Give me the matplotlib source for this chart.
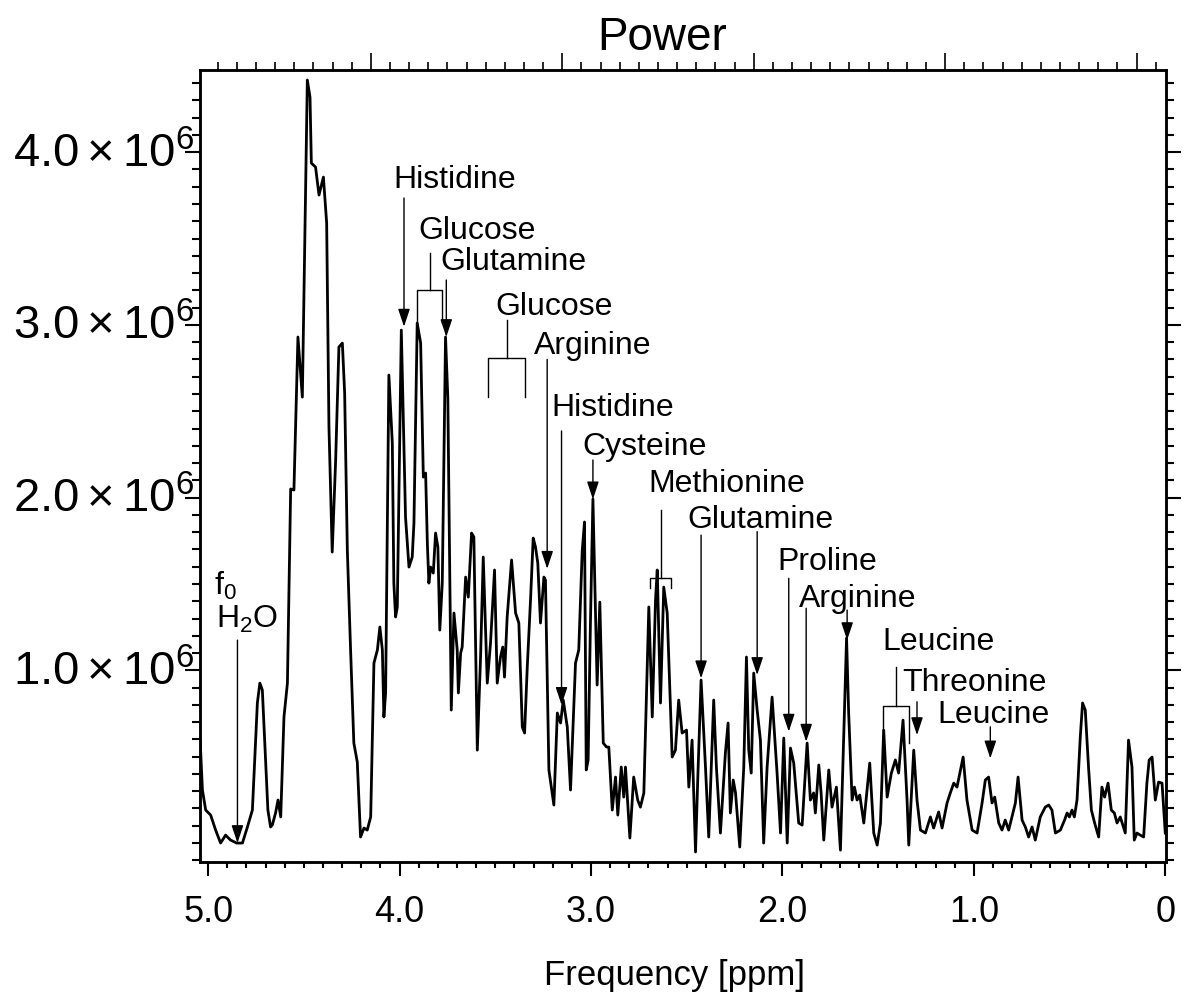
import numpy as np
import matplotlib.pyplot as plt
import matplotlib.transforms as mtransforms
from matplotlib.ticker import FixedLocator, FuncFormatter, MultipleLocator

plt.rcParams['font.family'] = ['Liberation Sans', 'DejaVu Sans']
plt.rcParams['mathtext.fontset'] = 'custom'
plt.rcParams['mathtext.rm'] = 'Liberation Sans'
plt.rcParams['mathtext.it'] = 'Liberation Sans:italic'
plt.rcParams['mathtext.default'] = 'regular'

# spectrum: chemical shift [ppm] and power [x1e6]
ppm = [5.042, 5.030, 5.013, 4.987, 4.961, 4.935, 4.909, 4.883, 4.851, 4.821,
       4.795, 4.769, 4.743, 4.730, 4.717, 4.705, 4.688, 4.674, 4.665, 4.648,
       4.635, 4.621, 4.604, 4.586, 4.569, 4.552, 4.531, 4.508, 4.482, 4.468,
       4.461, 4.439, 4.421, 4.398, 4.381, 4.369, 4.352, 4.334, 4.317, 4.299,
       4.287, 4.273, 4.256, 4.239, 4.221, 4.204, 4.186, 4.169, 4.151, 4.134,
       4.116, 4.103, 4.090, 4.082, 4.073, 4.056, 4.038, 4.030, 4.021, 4.012,
       3.991, 3.969, 3.951, 3.934, 3.925, 3.908, 3.890, 3.876, 3.864, 3.855,
       3.847, 3.838, 3.824, 3.812, 3.800, 3.790, 3.777, 3.760, 3.748, 3.730,
       3.716, 3.699, 3.693, 3.681, 3.673, 3.655, 3.641, 3.624, 3.612, 3.594,
       3.577, 3.563, 3.542, 3.525, 3.504, 3.490, 3.473, 3.461, 3.452, 3.438,
       3.415, 3.394, 3.377, 3.359, 3.347, 3.333, 3.316, 3.302, 3.290, 3.278,
       3.264, 3.246, 3.238, 3.220, 3.194, 3.176, 3.159, 3.145, 3.124, 3.107,
       3.081, 3.064, 3.046, 3.034, 3.025, 3.015, 3.003, 2.990, 2.968, 2.954,
       2.936, 2.919, 2.907, 2.889, 2.872, 2.860, 2.842, 2.829, 2.820, 2.797,
       2.777, 2.756, 2.742, 2.724, 2.698, 2.680, 2.663, 2.654, 2.637, 2.620,
       2.602, 2.576, 2.559, 2.542, 2.524, 2.501, 2.489, 2.472, 2.454, 2.442,
       2.425, 2.402, 2.385, 2.359, 2.345, 2.324, 2.298, 2.284, 2.272, 2.257,
       2.245, 2.223, 2.202, 2.188, 2.176, 2.163, 2.150, 2.132, 2.115, 2.098,
       2.080, 2.054, 2.028, 2.010, 1.993, 1.975, 1.958, 1.941, 1.915, 1.897,
       1.871, 1.854, 1.837, 1.828, 1.810, 1.798, 1.784, 1.758, 1.741, 1.718,
       1.697, 1.680, 1.665, 1.654, 1.636, 1.624, 1.610, 1.596, 1.575, 1.544,
       1.523, 1.505, 1.488, 1.471, 1.453, 1.431, 1.410, 1.393, 1.370, 1.349,
       1.340, 1.314, 1.297, 1.279, 1.253, 1.227, 1.210, 1.184, 1.166, 1.140,
       1.123, 1.105, 1.088, 1.056, 1.036, 1.009, 0.983, 0.957, 0.940, 0.923,
       0.905, 0.891, 0.870, 0.853, 0.836, 0.818, 0.801, 0.783, 0.769, 0.748,
       0.731, 0.714, 0.696, 0.679, 0.653, 0.627, 0.609, 0.592, 0.574, 0.548,
       0.526, 0.513, 0.501, 0.487, 0.475, 0.461, 0.444, 0.432, 0.418, 0.401,
       0.386, 0.369, 0.348, 0.331, 0.317, 0.299, 0.282, 0.266, 0.252, 0.235,
       0.209, 0.192, 0.174, 0.162, 0.148, 0.131, 0.113, 0.096, 0.084, 0.069,
       0.052, 0.035, 0.017, 0.000]
power = [0.596, 0.307, 0.191, 0.162, 0.075, 0.000, 0.046, 0.017, 0.000, 0.000,
         0.093, 0.191, 0.811, 0.926, 0.886, 0.596, 0.191, 0.093, 0.104, 0.174,
         0.249, 0.151, 0.730, 0.926, 2.050, 2.044, 2.930, 2.582, 4.418, 4.319,
         3.937, 3.914, 3.752, 3.856, 3.590, 2.409, 1.685, 2.218, 2.872, 2.895,
         2.606, 1.697, 1.118, 0.579, 0.469, 0.035, 0.087, 0.075, 0.151, 1.042,
         1.118, 1.251, 1.118, 0.730, 0.869, 2.710, 2.316, 1.505, 1.309, 1.367,
         2.970, 1.888, 1.598, 1.656, 1.853, 3.011, 2.895, 2.119, 2.142, 1.737,
         1.505, 1.598, 1.563, 1.795, 1.714, 1.233, 1.505, 2.930, 2.577, 0.770,
         1.332, 1.118, 0.869, 1.100, 1.135, 1.540, 1.424, 1.795, 1.772, 0.538,
         1.077, 1.656, 0.926, 1.158, 1.581, 0.926, 1.077, 1.135, 0.961, 1.309,
         1.639, 1.332, 1.274, 0.672, 0.637, 1.019, 1.407, 1.766, 1.714, 1.621,
         1.274, 1.540, 1.523, 0.423, 0.220, 0.753, 0.695, 0.828, 0.672, 0.307,
         1.042, 1.118, 1.691, 1.859, 0.423, 0.481, 1.274, 1.992, 0.915, 1.395,
         0.579, 0.556, 0.556, 0.191, 0.382, 0.162, 0.440, 0.266, 0.440, 0.029,
         0.382, 0.249, 0.208, 0.290, 1.367, 0.730, 1.407, 1.581, 0.811, 1.482,
         1.332, 0.498, 0.538, 0.828, 0.637, 0.654, 0.324, 0.596, -0.052, 0.382,
         0.944, 0.440, 0.035, 0.828, 0.440, 0.058, 0.521, 0.695, 0.174, 0.365,
         0.290, -0.023, 0.440, 1.077, 0.538, 0.405, 0.984, 0.770, 0.596, 0.000,
         0.440, 0.845, 0.405, 0.058, 0.608, 0.000, 0.550, 0.463, 0.116, 0.104,
         0.579, 0.249, 0.290, 0.174, 0.452, 0.290, 0.017, 0.423, 0.208, 0.324,
         -0.041, 0.614, 1.187, 0.753, 0.249, 0.324, 0.249, 0.278, 0.116, 0.463,
         0.058, -0.012, 0.116, 0.654, 0.266, 0.405, 0.481, 0.405, 0.712, 0.249,
         -0.012, 0.538, 0.249, 0.075, 0.058, 0.151, 0.087, 0.180, 0.087, 0.232,
         0.290, 0.347, 0.324, 0.498, 0.249, 0.075, 0.058, 0.232, 0.365, 0.382,
         0.232, 0.266, 0.116, 0.075, 0.133, 0.075, 0.151, 0.232, 0.382, 0.133,
         0.093, 0.035, 0.093, 0.017, 0.151, 0.208, 0.220, 0.191, 0.058, 0.075,
         0.133, 0.174, 0.151, 0.191, 0.151, 0.249, 0.614, 0.811, 0.770, 0.440,
         0.191, 0.116, 0.035, 0.324, 0.266, 0.347, 0.191, 0.174, 0.116, 0.151,
         0.058, 0.596, 0.440, 0.017, 0.058, 0.046, 0.035, 0.347, 0.481, 0.498,
         0.249, 0.353, 0.347, 0.058]

x_ticks = [5.0, 4.0, 3.0, 2.0, 1.0, 0.0]
x_tick_labels = ['5.0', '4.0', '3.0', '2.0', '1.0', '0']
y_ticks = [1e6, 2e6, 3e6, 4e6]
top_major = [4.15, 3.15, 2.15, 1.15, 0.15]

# peak labels: text, left edge [ppm], baseline [x1e6]
names = ['Histidine', 'Glucose', 'Glutamine', 'Glucose', 'Arginine', 'Histidine',
         'Cysteine', 'Methionine', 'Glutamine', 'Proline', 'Arginine', 'Leucine',
         'Threonine', 'Leucine', 'f$_0$', 'H$_2$O']
name_x = [4.031, 3.902, 3.786, 3.499, 3.299, 3.206, 3.046, 2.700, 2.498, 2.028,
          1.916, 1.479, 1.375, 1.192, 4.971, 4.961]
name_y = [3.793, 3.500, 3.318, 3.058, 2.831, 2.470, 2.248, 2.034, 1.822, 1.581,
          1.368, 1.118, 0.882, 0.693, 1.436, 1.245]

# arrows: position [ppm], tail and tip [x1e6]
arrow_x = [3.977, 3.756, 3.229, 3.154, 2.990, 2.425, 2.132, 1.967, 1.876, 1.662,
           1.297, 0.914, 4.847]
arrow_tail = [3.735, 3.260, 2.800, 2.386, 2.218, 1.783, 1.803, 1.533, 1.359, 1.349,
              0.818, 0.673, 1.175]
arrow_tip = [2.990, 2.930, 1.588, 0.800, 1.990, 0.954, 0.973, 0.645, 0.587, 1.175,
             0.625, 0.490, 0.000]

# brackets: left, right, stem [ppm]; stem top, bar, leg end [x1e6]
br_left = [3.911, 3.537, 2.693, 1.476]
br_right = [3.777, 3.347, 2.581, 1.337]
br_stem = [3.842, 3.438, 2.633, 1.405]
br_top = [3.416, 3.028, 1.928, 1.021]
br_bar = [3.202, 2.808, 1.533, 0.793]
br_leg = [3.011, 2.584, 1.475, 0.579]

fig = plt.figure(figsize=(11.85, 9.96), dpi=100)
ax = fig.add_axes([0.1684, 0.1345, 0.8156, 0.7952])

ax.plot(ppm, np.array(power) * 1e6, color='black', lw=2)
ax.set_xlim(5.045, -0.004)
ax.set_ylim(-0.11e6, 4.476e6)

ax.xaxis.set_major_locator(FixedLocator(x_ticks))
ax.set_xticklabels(x_tick_labels)
ax.xaxis.set_minor_locator(MultipleLocator(0.1))
ax.yaxis.set_major_locator(FixedLocator(y_ticks))
ax.yaxis.set_minor_locator(MultipleLocator(1e5))
ax.yaxis.set_major_formatter(FuncFormatter(lambda v, p: r'$%.1f\times10^{6}$' % (v / 1e6)))

ax.tick_params(axis='x', which='major', direction='out', length=10, width=1.5,
               labelsize=26, pad=14)
ax.tick_params(axis='x', which='minor', direction='out', length=4.5, width=1.5)
ax.tick_params(axis='y', which='major', direction='out', length=11, width=1.5,
               labelsize=34, pad=-7, right=True)
ax.tick_params(axis='y', which='minor', direction='out', length=6, width=1.5, right=True)
for s in ax.spines.values():
    s.set_linewidth(1.8)

# lift the y labels a little so the digits sit on the tick and the exponent above it
lift = mtransforms.ScaledTranslation(0, 2 / 72, fig.dpi_scale_trans)
for lab in ax.get_yticklabels():
    lab.set_transform(lab.get_transform() + lift)

top = ax.twiny()
top.set_xlim(ax.get_xlim())
top.xaxis.set_major_locator(FixedLocator(top_major))
top.xaxis.set_minor_locator(FixedLocator(np.round(np.arange(0.05, 5.0, 0.1), 2)))
top.tick_params(axis='x', which='major', direction='out', length=12, width=1.2, labeltop=False)
top.tick_params(axis='x', which='minor', direction='out', length=6, width=1.2)
for s in top.spines.values():
    s.set_linewidth(1.8)

for t, x, y in zip(names, name_x, name_y):
    ax.text(x, y * 1e6, t, fontsize=23, ha='left', va='baseline')

for x, y0, y1 in zip(arrow_x, arrow_tail, arrow_tip):
    ax.annotate('', xy=(x, y1 * 1e6), xytext=(x, y0 * 1e6),
                arrowprops=dict(arrowstyle='-|>,head_length=0.9,head_width=0.3',
                                mutation_scale=12, lw=1, color='black',
                                shrinkA=0, shrinkB=0))

for l, r, m, t, b, g in zip(br_left, br_right, br_stem, br_top, br_bar, br_leg):
    ax.plot([m, m], [t * 1e6, b * 1e6], color='black', lw=1)
    ax.plot([l, l, r, r], [g * 1e6, b * 1e6, b * 1e6, g * 1e6], color='black', lw=1)

fig.text(0.5586, 0.9498, 'Power', fontsize=33, ha='center', va='baseline')
fig.text(0.569, 0.011, 'Frequency [ppm]', fontsize=25, ha='center', va='baseline')

fig.savefig('out.png', dpi=100)
